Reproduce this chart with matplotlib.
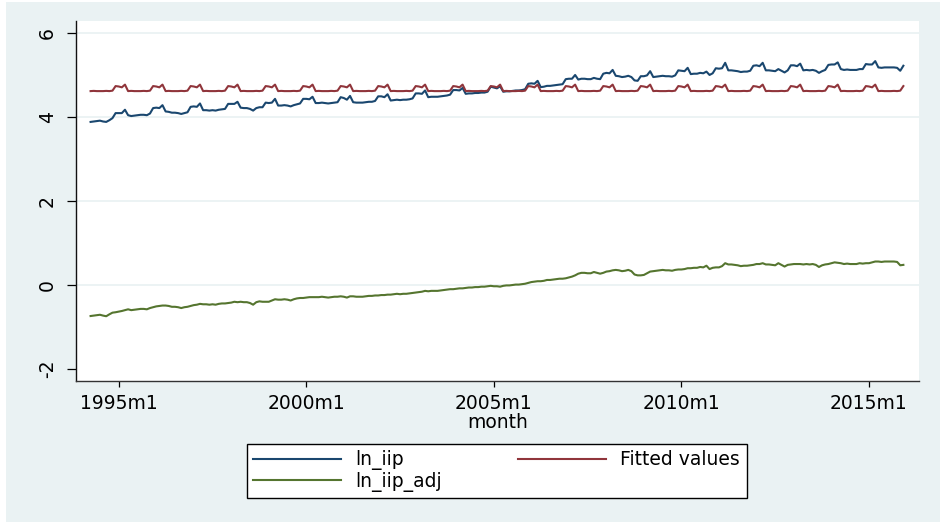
import matplotlib
matplotlib.use("Agg")
import matplotlib.pyplot as plt
from matplotlib.patches import Rectangle
from matplotlib.lines import Line2D

# ---------------- data ----------------
start_year = 1994
start_month = 4   # first observation: 1994m4

# ln_iip, monthly 1994m4 .. 2015m12 (one row per calendar year)
ln_iip = [
    3.89, 3.90, 3.91, 3.92, 3.90, 3.89, 3.93, 3.98, 4.10,                     # 1994 (Apr-Dec)
    4.10, 4.10, 4.18, 4.05, 4.03, 4.04, 4.05, 4.06, 4.06, 4.05, 4.09, 4.22,   # 1995
    4.23, 4.22, 4.29, 4.14, 4.13, 4.11, 4.11, 4.10, 4.08, 4.10, 4.12, 4.25,   # 1996
    4.26, 4.25, 4.33, 4.17, 4.17, 4.16, 4.17, 4.16, 4.18, 4.19, 4.20, 4.32,   # 1997
    4.32, 4.32, 4.37, 4.23, 4.22, 4.22, 4.20, 4.16, 4.22, 4.24, 4.24, 4.35,   # 1998
    4.34, 4.35, 4.44, 4.28, 4.28, 4.29, 4.28, 4.26, 4.29, 4.31, 4.33, 4.44,   # 1999
    4.44, 4.43, 4.49, 4.34, 4.34, 4.35, 4.34, 4.33, 4.34, 4.35, 4.36, 4.48,   # 2000
    4.46, 4.42, 4.51, 4.36, 4.35, 4.35, 4.35, 4.36, 4.37, 4.37, 4.39, 4.50,   # 2001
    4.50, 4.48, 4.55, 4.40, 4.41, 4.42, 4.41, 4.42, 4.42, 4.43, 4.45, 4.57,   # 2002
    4.57, 4.56, 4.64, 4.48, 4.49, 4.49, 4.49, 4.50, 4.51, 4.52, 4.54, 4.65,   # 2003
    4.65, 4.64, 4.70, 4.56, 4.57, 4.57, 4.58, 4.58, 4.59, 4.59, 4.61, 4.73,   # 2004
    4.71, 4.69, 4.74, 4.61, 4.62, 4.62, 4.63, 4.64, 4.64, 4.65, 4.67, 4.80,   # 2005
    4.81, 4.80, 4.87, 4.72, 4.73, 4.75, 4.75, 4.76, 4.77, 4.78, 4.79, 4.91,   # 2006
    4.92, 4.92, 5.01, 4.90, 4.92, 4.92, 4.91, 4.91, 4.94, 4.92, 4.91, 5.04,   # 2007
    5.06, 5.05, 5.13, 4.99, 4.98, 4.96, 4.97, 4.99, 4.96, 4.88, 4.87, 4.98,   # 2008
    4.98, 5.00, 5.10, 4.96, 4.97, 4.98, 4.99, 4.98, 4.98, 4.97, 5.00, 5.12,   # 2009
    5.11, 5.10, 5.18, 5.03, 5.04, 5.04, 5.06, 5.05, 5.09, 5.01, 5.05, 5.17,   # 2010
    5.16, 5.17, 5.30, 5.12, 5.12, 5.11, 5.10, 5.08, 5.09, 5.09, 5.11, 5.23,   # 2011
    5.24, 5.22, 5.30, 5.12, 5.12, 5.11, 5.10, 5.15, 5.11, 5.07, 5.12, 5.24,   # 2012
    5.24, 5.22, 5.28, 5.12, 5.13, 5.12, 5.13, 5.11, 5.06, 5.10, 5.13, 5.25,   # 2013
    5.26, 5.26, 5.31, 5.15, 5.13, 5.14, 5.13, 5.13, 5.13, 5.15, 5.15, 5.27,   # 2014
    5.26, 5.26, 5.34, 5.19, 5.18, 5.19, 5.19, 5.19, 5.19, 5.18, 5.11, 5.23,   # 2015
]

# ln_iip_adj, monthly 1994m4 .. 2015m12
ln_iip_adj = [
    -0.74, -0.73, -0.72, -0.71, -0.73, -0.745, -0.70, -0.66, -0.65,                  # 1994
    -0.635, -0.62, -0.60, -0.58, -0.60, -0.59, -0.58, -0.57, -0.57, -0.58, -0.55, -0.53,  # 1995
    -0.51, -0.50, -0.49, -0.49, -0.50, -0.52, -0.52, -0.53, -0.55, -0.53, -0.52, -0.50,   # 1996
    -0.48, -0.47, -0.45, -0.46, -0.46, -0.47, -0.46, -0.47, -0.45, -0.44, -0.44, -0.43,   # 1997
    -0.42, -0.40, -0.41, -0.40, -0.41, -0.41, -0.43, -0.47, -0.41, -0.39, -0.40, -0.40,   # 1998
    -0.40, -0.37, -0.34, -0.35, -0.35, -0.34, -0.35, -0.37, -0.34, -0.32, -0.31, -0.31,   # 1999
    -0.30, -0.29, -0.29, -0.29, -0.29, -0.28, -0.29, -0.30, -0.29, -0.28, -0.28, -0.27,   # 2000
    -0.28, -0.30, -0.27, -0.27, -0.28, -0.28, -0.28, -0.27, -0.26, -0.26, -0.25, -0.25,   # 2001
    -0.24, -0.24, -0.23, -0.23, -0.22, -0.21, -0.22, -0.21, -0.21, -0.20, -0.19, -0.18,   # 2002
    -0.17, -0.16, -0.14, -0.15, -0.14, -0.14, -0.14, -0.13, -0.12, -0.11, -0.10, -0.10,   # 2003
    -0.09, -0.08, -0.08, -0.07, -0.06, -0.06, -0.05, -0.05, -0.04, -0.04, -0.03, -0.02,   # 2004
    -0.03, -0.03, -0.04, -0.02, -0.01, -0.01, 0.00, 0.01, 0.01, 0.02, 0.03, 0.05,         # 2005
    0.07, 0.08, 0.09, 0.09, 0.10, 0.12, 0.12, 0.13, 0.14, 0.15, 0.15, 0.16,               # 2006
    0.18, 0.20, 0.23, 0.27, 0.29, 0.29, 0.28, 0.28, 0.31, 0.29, 0.27, 0.29,               # 2007
    0.32, 0.33, 0.35, 0.36, 0.35, 0.33, 0.34, 0.36, 0.33, 0.25, 0.23, 0.23,               # 2008
    0.24, 0.28, 0.32, 0.33, 0.34, 0.35, 0.36, 0.35, 0.35, 0.34, 0.36, 0.37,               # 2009
    0.37, 0.38, 0.40, 0.40, 0.41, 0.41, 0.43, 0.42, 0.46, 0.38, 0.41, 0.42,               # 2010
    0.42, 0.45, 0.52, 0.49, 0.49, 0.48, 0.47, 0.45, 0.46, 0.46, 0.47, 0.48,               # 2011
    0.50, 0.50, 0.52, 0.49, 0.49, 0.48, 0.47, 0.52, 0.48, 0.44, 0.48, 0.49,               # 2012
    0.50, 0.50, 0.50, 0.49, 0.50, 0.49, 0.50, 0.48, 0.43, 0.47, 0.49, 0.50,               # 2013
    0.52, 0.54, 0.53, 0.52, 0.50, 0.51, 0.50, 0.50, 0.50, 0.52, 0.51, 0.52,               # 2014
    0.52, 0.54, 0.56, 0.56, 0.55, 0.56, 0.56, 0.56, 0.56, 0.55, 0.47, 0.48,               # 2015
]

# Fitted values from month dummies (Jan..Dec) - identical every year
fitted_by_month = [4.735, 4.715, 4.78, 4.625, 4.63, 4.625,
                   4.625, 4.625, 4.63, 4.625, 4.635, 4.745]

x_tick_labels = ["1995m1", "2000m1", "2005m1", "2010m1", "2015m1"]
y_ticks = [-2, 0, 2, 4, 6]

series_labels = ["ln_iip", "Fitted values", "ln_iip_adj"]
series_colors = ["#1A476F", "#90353B", "#55752F"]

# ---------------- derived (Stata monthly dates: months since 1960m1) ----------------
def stata_month(year, month):
    return (year - 1960) * 12 + (month - 1)

t0 = stata_month(start_year, start_month)
months = [t0 + i for i in range(len(ln_iip))]
fitted = [fitted_by_month[m % 12] for m in months]
x_ticks = [stata_month(int(s.split("m")[0]), int(s.split("m")[1])) for s in x_tick_labels]

# ---------------- figure ----------------
W, H = 940, 522
fig = plt.figure(figsize=(W / 100, H / 100), dpi=100, facecolor="white")
bg = "#EAF2F3"
fig.patches.append(Rectangle((6 / W, 0), 1 - 6 / W, 1 - 2 / H,
                             transform=fig.transFigure, facecolor=bg,
                             edgecolor="none", zorder=-10))

left, right, top, bottom = 75.7, 919, 21.3, 381
ax = fig.add_axes([left / W, 1 - bottom / H, (right - left) / W, (bottom - top) / H])
ax.set_facecolor("white")

fs = 13.5
ax.plot(months, ln_iip, color=series_colors[0], lw=1.5, label=series_labels[0], zorder=3)
ax.plot(months, fitted, color=series_colors[1], lw=1.5, label=series_labels[1], zorder=3)
ax.plot(months, ln_iip_adj, color=series_colors[2], lw=1.5, label=series_labels[2], zorder=3)

ax.set_xlim(406.24, 676.0)
ax.set_ylim(-2.29, 6.29)

for yv in [0, 2, 4, 6]:
    ax.axhline(yv, color=bg, lw=1.3, zorder=1)

ax.set_xticks(x_ticks)
ax.set_xticklabels(x_tick_labels)
ax.set_yticks(y_ticks)
ax.set_yticklabels([str(v) for v in y_ticks])
ax.tick_params(axis="x", length=4.5, width=0.9, pad=5, labelsize=fs, colors="black")
ax.tick_params(axis="y", length=6.5, width=0.9, pad=7, labelsize=fs, colors="black",
               labelrotation=90)
for lbl in ax.get_yticklabels():
    lbl.set_va("center")

for side in ["top", "right"]:
    ax.spines[side].set_visible(False)
ax.spines["left"].set_color("#111111")
ax.spines["bottom"].set_color("#333333")
ax.spines["left"].set_linewidth(1.0)
ax.spines["bottom"].set_linewidth(1.0)

ax.set_xlabel("month", fontsize=fs, labelpad=0)

# legend (row1: ln_iip, Fitted values; row2: ln_iip_adj)
handles = [Line2D([], [], color=series_colors[0], lw=1.5),
           Line2D([], [], color=series_colors[2], lw=1.5),
           Line2D([], [], color=series_colors[1], lw=1.5)]
labels = [series_labels[0], series_labels[2], series_labels[1]]
lx0, lx1, ly0, ly1 = 246.7, 746.7, 439.3, 498.3
leg = fig.legend(handles, labels, ncol=2, loc="lower left", mode="expand",
                 bbox_to_anchor=(lx0 / W, 1 - ly1 / H, (lx1 - lx0) / W, (ly1 - ly0) / H),
                 fontsize=fs, frameon=True, fancybox=False, edgecolor="black",
                 framealpha=1, handlelength=4.7, handletextpad=0.75,
                 borderpad=0.35, labelspacing=0.08, borderaxespad=0)
leg.get_frame().set_linewidth(1.0)

fig.savefig("out.png", dpi=100, facecolor=fig.get_facecolor())
